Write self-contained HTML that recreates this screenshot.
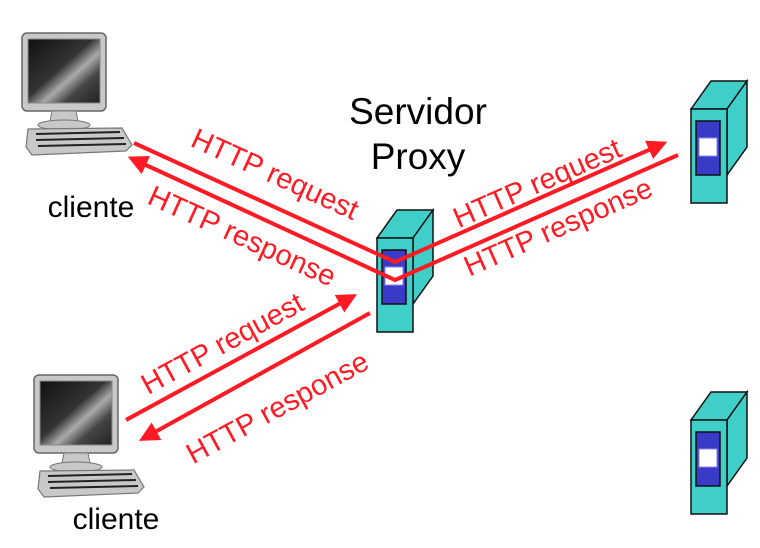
<!DOCTYPE html>
<html><head><meta charset="utf-8"><style>
html,body{margin:0;padding:0;background:#fff;}
svg{display:block;}
</style></head><body>
<svg width="760" height="548" viewBox="0 0 760 548" xmlns="http://www.w3.org/2000/svg" font-family="Liberation Sans, DejaVu Sans, sans-serif">
<defs>
<linearGradient id="scr" x1="0" y1="0" x2="1" y2="1">
<stop offset="0" stop-color="#111"/><stop offset="0.45" stop-color="#333"/><stop offset="0.6" stop-color="#aaa"/><stop offset="0.75" stop-color="#444"/><stop offset="1" stop-color="#222"/>
</linearGradient>
<marker id="ah" markerWidth="5" markerHeight="5" refX="3" refY="2.5" orient="auto" markerUnits="strokeWidth">
<path d="M0,0 L5,2.5 L0,5 Z" fill="#ff1a24"/>
</marker>
<g id="pc">
<rect x="0" y="0" width="84" height="78" rx="5" fill="#c8c8c8" stroke="#666" stroke-width="1.5"/>
<rect x="6" y="6" width="72" height="64" fill="url(#scr)" stroke="#888"/>
<path d="M30,78 L54,78 L56,88 L28,88 Z" fill="#c8c8c8" stroke="#777"/>
<ellipse cx="42" cy="92" rx="26" ry="5" fill="#c8c8c8" stroke="#777"/>
<path d="M6,96 L100,95 L110,112 L104,118 L10,122 L4,114 Z" fill="#c8c8c8" stroke="#777" stroke-width="1.2"/>
<line x1="14" y1="101" x2="98" y2="99" stroke="#222" stroke-width="2"/>
<line x1="14" y1="107" x2="102" y2="105" stroke="#222" stroke-width="2"/>
<line x1="16" y1="113" x2="104" y2="111" stroke="#222" stroke-width="2"/>
</g>
<g id="srv">
<path d="M0,28 L20,0 L56,0 L36,28 Z" fill="#40cec8" stroke="#111" stroke-width="1.5"/>
<path d="M36,28 L56,0 L56,66 L36,94 Z" fill="#40cec8" stroke="#111" stroke-width="1.5"/>
<rect x="0" y="28" width="36" height="94" fill="#40cec8" stroke="#111" stroke-width="1.5"/>
<rect x="5" y="40" width="24" height="54" fill="#3a3ac8" stroke="#111" stroke-width="1.5"/>
<rect x="8" y="57" width="18" height="18" fill="#fff" stroke="#8888ee"/>
</g>
</defs>

<use href="#pc" x="22" y="33"/>
<use href="#pc" x="34" y="375"/>

<use href="#srv" x="377" y="210"/>
<use href="#srv" x="691" y="81"/>
<use href="#srv" x="691" y="392"/>

<g stroke="#ff1a24" stroke-width="4" fill="none">
<polyline points="134,143 395,262 660,145" marker-end="url(#ah)"/>
<polyline points="678,155 395,280 135,160" marker-end="url(#ah)"/>
<line x1="126" y1="420" x2="350" y2="298" marker-end="url(#ah)"/>
<line x1="370" y1="313" x2="146" y2="437" marker-end="url(#ah)"/>
</g>

<g fill="#ff1a24" font-size="29" text-anchor="middle">
<text transform="translate(271,183) rotate(24.5)">HTTP request</text>
<text transform="translate(238,245) rotate(24.5)">HTTP response</text>
<text transform="translate(541,192) rotate(-23.8)">HTTP request</text>
<text transform="translate(562,236) rotate(-23.8)">HTTP response</text>
<text transform="translate(227,352) rotate(-28.6)">HTTP request</text>
<text transform="translate(282,416) rotate(-28.6)">HTTP response</text>
</g>

<g fill="#000" text-anchor="middle">
<text x="418" y="124" font-size="37">Servidor</text>
<text x="418" y="169" font-size="37">Proxy</text>
<text x="91" y="217" font-size="30">cliente</text>
<text x="116" y="529" font-size="30">cliente</text>
</g>
</svg>
</body></html>
